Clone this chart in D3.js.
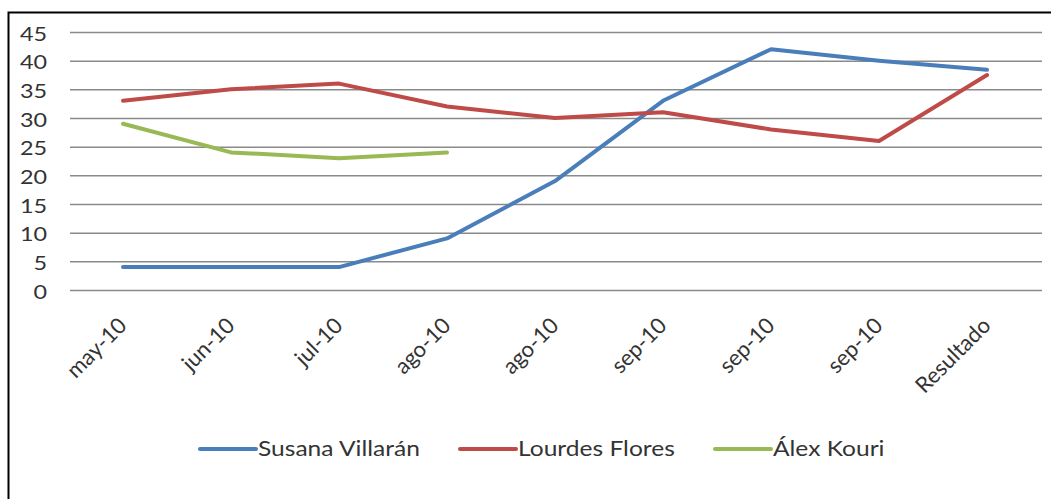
<!DOCTYPE html>
<html>
<head>
<meta charset="utf-8">
<script src="https://cdn.jsdelivr.net/npm/d3@7"></script>
<style>
  html, body { margin: 0; padding: 0; background: #fff; }
  svg { display: block; }
  text { font-family: Lato, "Open Sans", sans-serif; fill: #333; }
</style>
</head>
<body>
<svg id="chart" width="1051" height="499"></svg>
<script>
const categories = ["may-10","jun-10","jul-10","ago-10","ago-10","sep-10","sep-10","sep-10","Resultado"];
const villaran = [4, 4, 4, 9, 19, 33, 42, 40, 38.4];
const flores   = [33, 35, 36, 32, 30, 31, 28, 26, 37.5];
const kouri    = [29, 24, 23, 24, null, null, null, null, null];
const seriesNames = ["Susana Villarán", "Lourdes Flores", "Álex Kouri"];
const seriesColors = ["#4A7EBB", "#BE4B48", "#98B954"];
const yTicks = [0, 5, 10, 15, 20, 25, 30, 35, 40, 45];

const series = [villaran, flores, kouri];
const SX = 1.17; // horizontal stretch of text seen in the reference

const svg = d3.select("#chart");
const plot = { left: 69, right: 1041, top: 32, bottom: 290 };

// border (left and top)
svg.append("path")
  .attr("d", "M8.5,499 L8.5,12.5 L1051,12.5")
  .attr("fill", "none").attr("stroke", "#000").attr("stroke-width", 2);

const x = d3.scaleBand().domain(d3.range(categories.length))
  .range([plot.left, plot.right]).paddingInner(0).paddingOuter(0);
const y = d3.scaleLinear().domain([0, 45]).range([plot.bottom, plot.top]);

// y axis with gridlines
const yAxis = svg.append("g")
  .attr("transform", `translate(${plot.left + 1},0)`)
  .call(d3.axisLeft(y).tickValues(yTicks).tickSize(-(plot.right - plot.left)).tickPadding(22));
yAxis.select(".domain").remove();
yAxis.selectAll(".tick line").attr("stroke", "#8a8a8a").attr("stroke-width", 1.5);
yAxis.selectAll(".tick text")
  .style("font-size", "20px").attr("fill", "#333").attr("dy", "0.4em")
  .attr("x", -23 / SX)
  .attr("transform", `scale(${SX},1)`);

// x axis labels
const xAxis = svg.append("g")
  .attr("transform", `translate(0,${plot.bottom})`)
  .call(d3.axisBottom(x).tickFormat(i => categories[i]).tickSize(0));
xAxis.select(".domain").remove();
xAxis.selectAll(".tick text")
  .style("font-size", "22px").attr("fill", "#333")
  .attr("text-anchor", "end")
  .attr("x", 0).attr("y", 0).attr("dy", 0)
  .attr("transform", "translate(5,37) rotate(-45)");

// lines
const line = d3.line()
  .defined(d => d.v !== null)
  .x(d => x(d.i) + x.bandwidth() / 2)
  .y(d => y(d.v));

series.forEach((vals, k) => {
  svg.append("path")
    .datum(vals.map((v, i) => ({ i, v })))
    .attr("fill", "none")
    .attr("stroke", seriesColors[k])
    .attr("stroke-width", 4)
    .attr("stroke-linejoin", "round")
    .attr("stroke-linecap", "round")
    .attr("d", line);
});

// legend
const legendX = [200, 460, 715];
const legendY = 449;
const lg = svg.append("g");
seriesNames.forEach((name, k) => {
  const g = lg.append("g").attr("transform", `translate(${legendX[k]},${legendY})`);
  g.append("line").attr("x1", 0).attr("x2", 56).attr("y1", 0).attr("y2", 0)
    .attr("stroke", seriesColors[k]).attr("stroke-width", 4).attr("stroke-linecap", "round");
  g.append("text").attr("x", 0).attr("y", 0).attr("dy", "0.35em")
    .attr("transform", `translate(58,0) scale(${SX},1)`)
    .style("font-size", "21px").text(name);
});
</script>
</body>
</html>
